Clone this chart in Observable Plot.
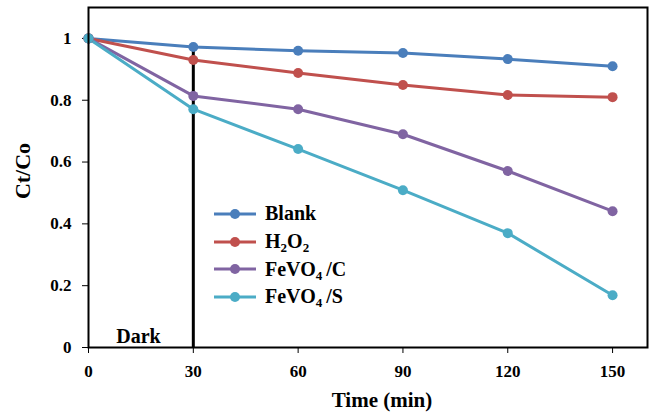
<!DOCTYPE html>
<html>
<head>
<meta charset="utf-8">
<script src="https://cdn.jsdelivr.net/npm/d3@7"></script>
<script src="https://cdn.jsdelivr.net/npm/@observablehq/plot@0.6"></script>
</head>
<body style="margin:0;font-family:'Liberation Serif';font-weight:bold">
<div id="wrap" style="position:relative;width:651px;height:414px;font-family:'Liberation Serif'"></div>
<script>
// ---- data ----
const times = [0, 30, 60, 90, 120, 150];
const seriesNames = ["Blank", "H2O2", "FeVO4/C", "FeVO4/S"];
const seriesLabels = ["Blank", "H<sub>2</sub>O<sub>2</sub>", "FeVO<sub>4</sub>&thinsp;/C", "FeVO<sub>4</sub>&thinsp;/S"];
const seriesColors = ["#4a7ebb", "#c0504d", "#8064a2", "#4bacc6"];
const blank   = [1, 0.972, 0.960, 0.953, 0.933, 0.910];
const h2o2    = [1, 0.930, 0.888, 0.849, 0.817, 0.810];
const fevo4C  = [1, 0.814, 0.771, 0.690, 0.571, 0.441];
const fevo4S  = [1, 0.771, 0.642, 0.509, 0.370, 0.169];
const yTicks = [0, 0.2, 0.4, 0.6, 0.8, 1];
const darkTime = 30;           // end of dark period
const darkTop = 0.972;
const darkLabel = [{text: "Dark", time: 14.3, value: 0.035}];

const allValues = [blank, h2o2, fevo4C, fevo4S];
const data = seriesNames.flatMap((s, i) => times.map((t, j) => ({series: s, time: t, value: allValues[i][j]})));

const chart = Plot.plot({
  width: 651,
  height: 414,
  marginLeft: 88,
  marginTop: 7,
  marginRight: 4,
  marginBottom: 67,
  style: {fontFamily: "Liberation Serif", fontSize: "17px", fontWeight: "bold", background: "#fff", color: "#000", display: "block"},
  x: {domain: [0, 160]},
  y: {domain: [0, 1.1]},
  color: {domain: seriesNames, range: seriesColors},
  marks: [
    Plot.axisX({ticks: times, tickSize: 6, tickPadding: 11, label: null, tickFormat: d => String(d), fontSize: 17}),
    Plot.axisY({ticks: yTicks, tickSize: 6, tickPadding: 11, label: null, tickFormat: d => String(d), fontSize: 17}),
    Plot.ruleX([darkTime], {y1: 0, y2: darkTop, stroke: "#000", strokeWidth: 3}),
    Plot.line(data, {x: "time", y: "value", z: "series", stroke: "series", strokeWidth: 3}),
    Plot.dot(data, {x: "time", y: "value", fill: "series", r: 5}),
    Plot.text(darkLabel, {x: "time", y: "value", text: "text", fontSize: 20, fill: "#000"}),
    Plot.frame({stroke: "#000", strokeWidth: 2})
  ]
});

const wrap = document.getElementById("wrap");
wrap.appendChild(chart);

// axis titles as SVG text
const svg = d3.select(chart);
svg.append("text").attr("x", 382).attr("y", 407).attr("font-family", "Liberation Serif").attr("font-weight", "bold")
  .attr("text-anchor", "middle").attr("font-size", 21).attr("fill", "#000").text("Time (min)");
svg.append("text").attr("font-family", "Liberation Serif").attr("font-weight", "bold")
  .attr("transform", "translate(25,171) rotate(-90)")
  .attr("text-anchor", "middle").attr("dominant-baseline", "middle").attr("font-size", 22).attr("fill", "#000").text("Ct/Co");

// legend (HTML overlay inside the plot area)
const legend = d3.select(wrap).append("div")
  .attr("style", "position:absolute;left:213px;top:200px;font-family:'Liberation Serif';font-weight:bold;font-size:20px;color:#000");
seriesNames.forEach((s, i) => {
  const row = legend.append("div").attr("style", "display:flex;align-items:center;height:27.7px");
  const sw = row.append("svg").attr("width", 44).attr("height", 12).attr("style", "margin-right:8px");
  sw.append("line").attr("x1", 1).attr("x2", 43).attr("y1", 6).attr("y2", 6)
    .attr("stroke", seriesColors[i]).attr("stroke-width", 3);
  sw.append("circle").attr("cx", 22).attr("cy", 6).attr("r", 5).attr("fill", seriesColors[i]);
  row.append("span").html(seriesLabels[i]);
  row.selectAll("sub").attr("style", "font-size:13px;vertical-align:-4px;line-height:0");
});
</script>
</body>
</html>
